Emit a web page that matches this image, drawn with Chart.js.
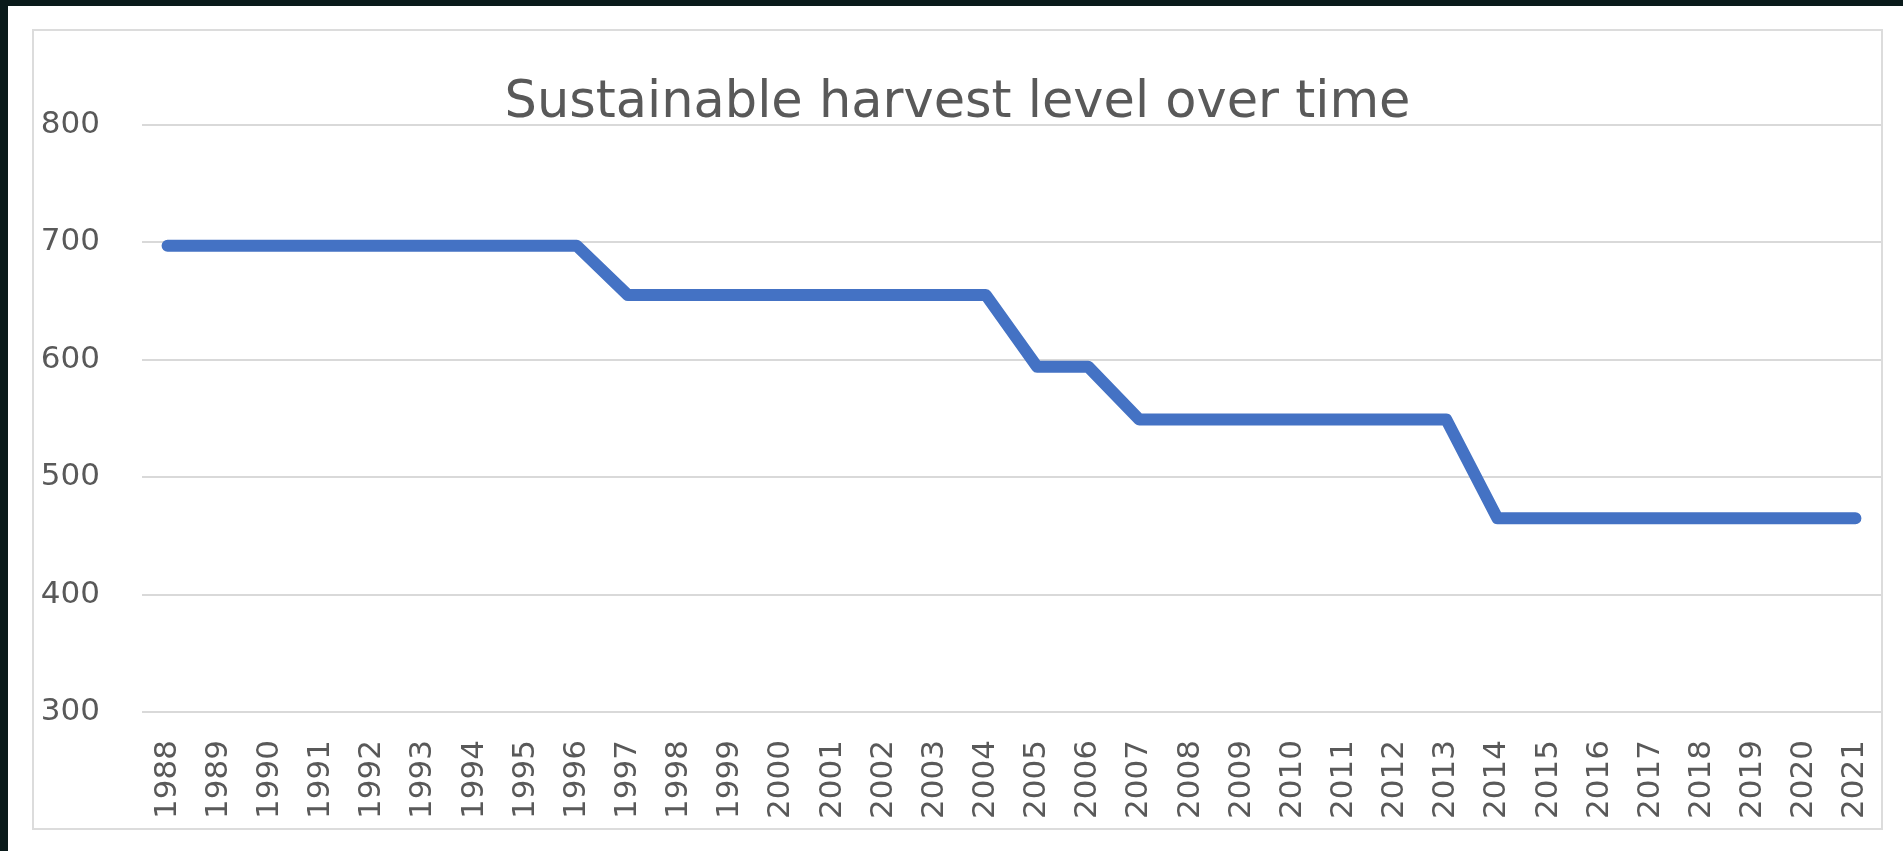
<!DOCTYPE html>
<html>
<head>
<meta charset="utf-8">
<title>Sustainable harvest level over time</title>
<script src="https://cdn.jsdelivr.net/npm/chart.js@4.4.1/dist/chart.umd.min.js"></script>
<style>
    html, body {
        margin: 0;
        padding: 0;
        width: 1903px;
        height: 851px;
        overflow: hidden;
        background: #0a1a1a;
    }
    #panel {
        position: absolute;
        left: 8px;
        top: 6px;
        right: 0;
        bottom: 0;
        background: #ffffff;
    }
    #frame {
        position: absolute;
        left: 32px;
        top: 29px;
        width: 1851px;
        height: 801px;
        box-sizing: border-box;
        border: 2px solid #dcdcdc;
        background: #ffffff;
    }
    #wrap {
        position: absolute;
        left: 0;
        top: 0;
        width: 1847px;
        height: 797px;
    }
</style>
</head>
<body>
<div id="panel"></div>
<div id="frame">
    <div id="wrap"><canvas id="myChart"></canvas></div>
</div>
<script>
// Données
const years = ['1988', '1989', '1990', '1991', '1992', '1993', '1994', '1995', '1996', '1997',
    '1998', '1999', '2000', '2001', '2002', '2003', '2004', '2005', '2006', '2007', '2008',
    '2009', '2010', '2011', '2012', '2013', '2014', '2015', '2016', '2017', '2018', '2019',
    '2020', '2021'];
const harvest = [697, 697, 697, 697, 697, 697, 697, 697, 697,
    655, 655, 655, 655, 655, 655, 655, 655,
    594, 594,
    549, 549, 549, 549, 549, 549, 549,
    465, 465, 465, 465, 465, 465, 465, 465];
const yTicks = [300, 400, 500, 600, 700, 800];

const grey = '#595959';
const font = 'DejaVu Sans';

const data = {
    labels: years,
    datasets: [{
        label: 'Sustainable harvest level',
        data: harvest,
        borderColor: '#4472c4',
        backgroundColor: '#4472c4',
        borderWidth: 12,
        borderCapStyle: 'round',
        borderJoinStyle: 'round',
        pointRadius: 0,
        tension: 0,
    }]
};

const config = {
    type: 'line',
    data: data,
    options: {
        responsive: true,
        maintainAspectRatio: false,
        animation: false,
        layout: {
            padding: { top: 51, left: 0, right: 0, bottom: 0 }
        },
        scales: {
            x: {
                offset: true,
                grid: { display: false, drawTicks: false },
                border: { display: false },
                ticks: {
                    autoSkip: false,
                    minRotation: 90,
                    maxRotation: 90,
                    padding: 28,
                    color: grey,
                    font: { family: font, size: 31 }
                },
                // pas de marge pour les étiquettes tournées : la zone va jusqu'au cadre
                afterFit: (scale) => {
                    scale.height = 116;
                    scale.paddingLeft = 0;
                    scale.paddingRight = 0;
                }
            },
            y: {
                min: yTicks[0],
                max: yTicks[yTicks.length - 1],
                afterBuildTicks: (scale) => { scale.ticks = yTicks.map(v => ({ value: v })); },
                grid: { color: '#d9d9d9', lineWidth: 2, drawTicks: false },
                border: { display: false },
                ticks: {
                    padding: 42,
                    color: grey,
                    font: { family: font, size: 31 }
                },
                afterFit: (scale) => { scale.width = 108; }
            }
        },
        plugins: {
            legend: { display: false },
            tooltip: { enabled: false },
            title: {
                display: true,
                text: 'Sustainable harvest level over time',
                color: grey,
                padding: 0,
                font: { family: font, size: 51, weight: 'normal', lineHeight: 0.84 }
            }
        }
    },
};

var myChart = new Chart(
    document.getElementById('myChart'),
    config
);
</script>
</body>
</html>
